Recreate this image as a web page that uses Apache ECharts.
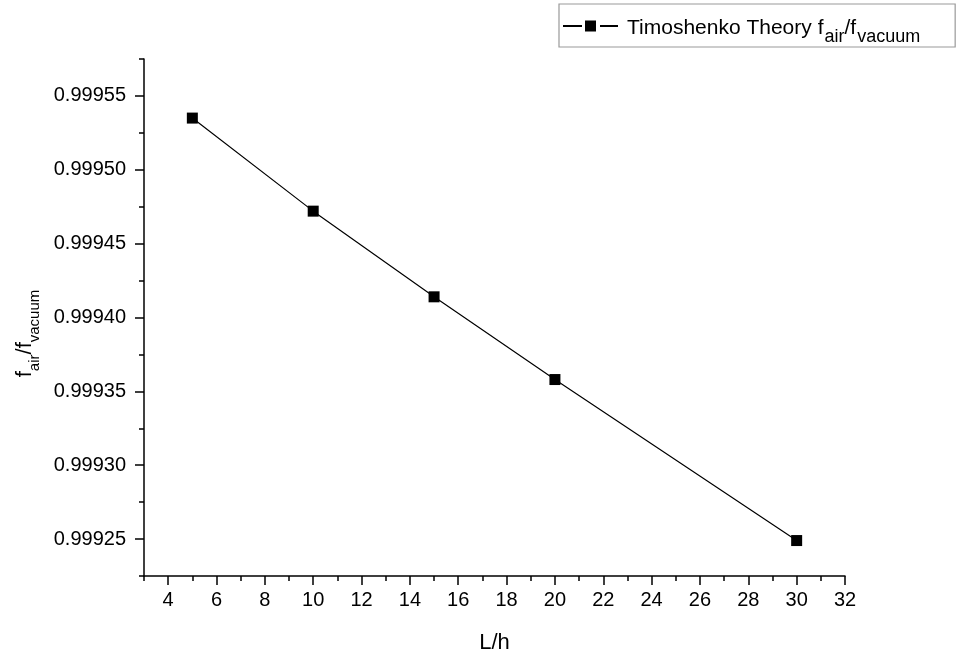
<!DOCTYPE html>
<html>
<head>
<meta charset="utf-8">
<script src="https://cdn.jsdelivr.net/npm/echarts@6/dist/echarts.min.js"></script>
<style>
html, body { margin: 0; padding: 0; background: #fff; }
#chart { width: 958px; height: 659px; }
</style>
</head>
<body>
<div id="chart"></div>
<script>
// Slenderness ratio L/h and the frequency ratio f_air / f_vacuum
const lengthRatio = [5, 10, 15, 20, 30];
const freqRatio = [0.999535, 0.999472, 0.999414, 0.999358, 0.999249];

// Axis ticks: labelled major ticks and short unlabelled minor ticks
const xMajorTicks = [4, 6, 8, 10, 12, 14, 16, 18, 20, 22, 24, 26, 28, 30, 32];
const xMinorTicks = [3, 5, 7, 9, 11, 13, 15, 17, 19, 21, 23, 25, 27, 29, 31];
const yMajorTicks = [0.99925, 0.99930, 0.99935, 0.99940, 0.99945, 0.99950, 0.99955];
const yMinorTicks = [0.999225, 0.999275, 0.999325, 0.999375, 0.999425, 0.999475, 0.999525, 0.999575];

const seriesName = 'Timoshenko Theory';
const FONT = 'Liberation Sans, Arial, Helvetica, sans-serif';

// Legend glyph: short line, square marker, short line ("—■—")
const legendIcon = 'path://M0,4.6H19V6.4H0Z M22,0H33V11H22Z M37,4.6H55V6.4H37Z';

const chart = echarts.init(document.getElementById('chart'), null, { renderer: 'canvas' });

const axisLineStyle = { color: '#000', width: 1.5 };
const tickStyle = { color: '#000', width: 1.5 };

const option = {
  backgroundColor: '#fff',
  animation: false,
  textStyle: { fontFamily: FONT },
  grid: { left: 144, top: 59, right: 113, bottom: 82, containLabel: false },
  legend: {
    data: [{ name: seriesName, icon: legendIcon }],
    left: 559,
    top: 4,
    padding: [2, 35, 1, 4],
    borderColor: '#999',
    borderWidth: 1.2,
    itemWidth: 55,
    itemHeight: 11,
    formatter: function (name) {
      return '{m0|' + name + ' f}{s|air}{m|/f}{s|vacuum}';
    },
    textStyle: {
      fontFamily: FONT,
      color: '#000',
      fontSize: 21,
      rich: {
        m0: { fontSize: 21, fontFamily: FONT, color: '#000', lineHeight: 24, padding: [10, 0, 6, 4] },
        m: { fontSize: 21, fontFamily: FONT, color: '#000', lineHeight: 24, padding: [10, 0, 6, 0] },
        s: { fontSize: 18, fontFamily: FONT, color: '#000', lineHeight: 18, padding: [22, 0, 0, 1] }
      }
    }
  },
  xAxis: [
    {
      type: 'value',
      min: 3,
      max: 32,
      position: 'bottom',
      name: 'L/h',
      nameLocation: 'middle',
      nameGap: 56,
      nameTextStyle: { fontFamily: FONT, fontSize: 22, color: '#000' },
      axisLine: { show: true, lineStyle: axisLineStyle },
      axisTick: { show: true, inside: false, length: 9, customValues: xMajorTicks, lineStyle: tickStyle },
      axisLabel: { show: true, customValues: xMajorTicks, margin: 14, fontSize: 20, fontFamily: FONT, color: '#000' },
      splitLine: { show: false }
    },
    {
      type: 'value',
      min: 3,
      max: 32,
      position: 'bottom',
      axisLine: { show: false },
      axisTick: { show: true, inside: false, length: 5, customValues: xMinorTicks, lineStyle: tickStyle },
      axisLabel: { show: false, customValues: xMinorTicks },
      splitLine: { show: false }
    }
  ],
  yAxis: [
    {
      type: 'value',
      min: 0.999225,
      max: 0.999575,
      position: 'left',
      name: '{m|f}{s|air}{m|/f}{s|vacuum}',
      nameLocation: 'middle',
      nameRotate: 90,
      nameGap: 103,
      nameTextStyle: {
        fontFamily: FONT,
        fontSize: 22,
        color: '#000',
        padding: [0, 32, 0, 0],
        rich: {
          m: { fontSize: 22, fontFamily: FONT, color: '#000', lineHeight: 24, padding: [2, 0, 6, 0] },
          s: { fontSize: 15, fontFamily: FONT, color: '#000', lineHeight: 15, padding: [17, 0, 0, 0] }
        }
      },
      axisLine: { show: true, lineStyle: axisLineStyle },
      axisTick: { show: true, inside: false, length: 9, customValues: yMajorTicks, lineStyle: tickStyle },
      axisLabel: {
        show: true,
        customValues: yMajorTicks,
        margin: 18,
        fontSize: 20,
        fontFamily: FONT,
        color: '#000',
        formatter: function (v) { return v.toFixed(5); }
      },
      splitLine: { show: false }
    },
    {
      type: 'value',
      min: 0.999225,
      max: 0.999575,
      position: 'left',
      axisLine: { show: false },
      axisTick: { show: true, inside: false, length: 5, customValues: yMinorTicks, lineStyle: tickStyle },
      axisLabel: { show: false, customValues: yMinorTicks },
      splitLine: { show: false }
    }
  ],
  series: [
    {
      name: seriesName,
      type: 'line',
      xAxisIndex: 0,
      yAxisIndex: 0,
      data: lengthRatio.map(function (x, i) { return [x, freqRatio[i]]; }),
      symbol: 'rect',
      symbolSize: 11,
      showSymbol: true,
      itemStyle: { color: '#000' },
      lineStyle: { color: '#000', width: 1.2 },
      emphasis: { disabled: true }
    }
  ]
};

chart.setOption(option);
</script>
</body>
</html>
